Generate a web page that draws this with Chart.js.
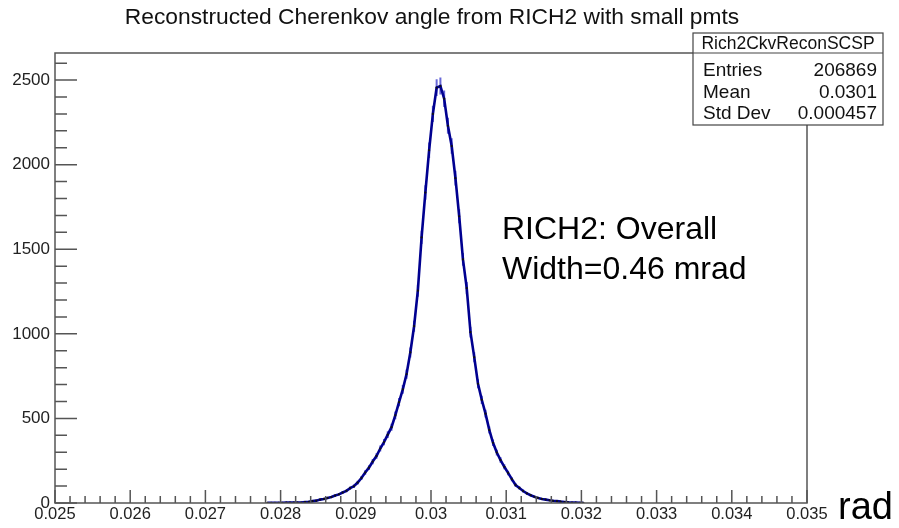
<!DOCTYPE html>
<html>
<head>
<meta charset="utf-8">
<script src="https://cdn.jsdelivr.net/npm/chart.js@4.4.1/dist/chart.umd.min.js"></script>
<style>
  html, body { margin: 0; padding: 0; background: #fff; }
</style>
</head>
<body>
<canvas id="ckvChart" width="899" height="528"></canvas>
<script>
// histogram binning (low edge of first filled bin, bin width in rad)
const BIN_LO = 0.0278;
const BIN_WIDTH = 0.00005;

// entries per bin, starting at BIN_LO
const binCounts = [
    1, 1, 1, 1, 1, 2, 2, 2,
    2, 3, 5, 7, 11, 14, 20, 24, 30, 35,
    44, 51, 62, 72, 88, 99, 121, 148, 180, 209,
    245, 278, 322, 360, 404, 448, 518, 596, 672, 762,
    890, 1045, 1255, 1570, 1835, 2085, 2300, 2455, 2465, 2390,
    2230, 2110, 1920, 1695, 1440, 1270, 1010, 862, 705, 610,
    528, 432, 356, 298, 254, 214, 178, 141, 106, 89,
    71, 57, 46, 37, 30, 24, 20, 16, 13, 11,
    8, 6, 4, 3, 2, 1, 1
];

const xTicks = [0.025, 0.026, 0.027, 0.028, 0.029, 0.03, 0.031, 0.032, 0.033, 0.034, 0.035];
const yTicks = [0, 500, 1000, 1500, 2000, 2500];

const histName = "Rich2CkvReconSCSP";
const statLabels = ["Entries", "Mean", "Std Dev"];
const statValues = ["206869", "0.0301", "0.000457"];

const TITLE = "Reconstructed Cherenkov angle from RICH2 with small pmts";
const NOTE_LINES = ["RICH2: Overall", "Width=0.46 mrad"];
const X_TITLE = "rad";

const FONT = "'Liberation Sans', Arial, sans-serif";

const points = binCounts.map((n, i) => ({ x: BIN_LO + (i + 0.5) * BIN_WIDTH, y: n }));

// ROOT style decorations: inward ticks, frame, stats box, labels
const rootStyle = {
    id: "rootStyle",
    beforeDatasetsDraw(chart) {
        const { ctx, scales: { x, y } } = chart;
        ctx.save();
        ctx.strokeStyle = "rgba(40, 40, 200, 0.7)";
        ctx.lineWidth = 2;
        ctx.beginPath();
        points.forEach(p => {
            const err = Math.sqrt(p.y);
            const px = x.getPixelForValue(p.x);
            ctx.moveTo(px, y.getPixelForValue(p.y + err));
            ctx.lineTo(px, y.getPixelForValue(Math.max(0, p.y - err)));
        });
        ctx.stroke();
        ctx.restore();
    },
    afterDatasetsDraw(chart) {
        const { ctx, chartArea: a, scales: { x, y } } = chart;
        ctx.save();

        // frame
        ctx.strokeStyle = "#555";
        ctx.lineWidth = 1.5;
        ctx.strokeRect(a.left, a.top, a.right - a.left, a.bottom - a.top);

        // x ticks (primary + 5 secondary divisions)
        ctx.beginPath();
        const xStep = xTicks[1] - xTicks[0];
        for (let i = 0; i < xTicks.length; i++) {
            const px = x.getPixelForValue(xTicks[i]);
            ctx.moveTo(px, a.bottom);
            ctx.lineTo(px, a.bottom - 13);
            if (i < xTicks.length - 1) {
                for (let k = 1; k < 5; k++) {
                    const mx = x.getPixelForValue(xTicks[i] + k * xStep / 5);
                    ctx.moveTo(mx, a.bottom);
                    ctx.lineTo(mx, a.bottom - 7);
                }
            }
        }
        // y ticks
        const yStep = yTicks[1] - yTicks[0];
        for (let i = 0; i < yTicks.length; i++) {
            const py = y.getPixelForValue(yTicks[i]);
            ctx.moveTo(a.left, py);
            ctx.lineTo(a.left + 22, py);
            for (let k = 1; k < 5; k++) {
                const v = yTicks[i] + k * yStep / 5;
                if (v > y.max) break;
                const my = y.getPixelForValue(v);
                ctx.moveTo(a.left, my);
                ctx.lineTo(a.left + 12, my);
            }
        }
        ctx.stroke();

        // title
        ctx.fillStyle = "#111";
        ctx.font = "22.8px " + FONT;
        ctx.textAlign = "center";
        ctx.textBaseline = "middle";
        ctx.fillText(TITLE, 432, 18);

        // stats box
        const bx = 693, by = 33, bw = 190, bh = 92;
        ctx.fillStyle = "#fff";
        ctx.fillRect(bx, by, bw, bh);
        ctx.strokeStyle = "#444";
        ctx.lineWidth = 1.2;
        ctx.strokeRect(bx, by, bw, bh);
        ctx.beginPath();
        ctx.moveTo(bx, by + 20);
        ctx.lineTo(bx + bw, by + 20);
        ctx.stroke();
        ctx.fillStyle = "#111";
        ctx.font = "17.5px " + FONT;
        ctx.textAlign = "center";
        ctx.fillText(histName, bx + bw / 2, by + 11);
        ctx.font = "19px " + FONT;
        statLabels.forEach((lab, i) => {
            const ty = 71 + i * 21.3;
            ctx.textAlign = "left";
            ctx.fillText(lab, bx + 10, ty);
            ctx.textAlign = "right";
            ctx.fillText(statValues[i], bx + bw - 6, ty);
        });

        // annotation
        ctx.fillStyle = "#000";
        ctx.font = "32px " + FONT;
        ctx.textAlign = "left";
        NOTE_LINES.forEach((line, i) => ctx.fillText(line, 502, 230 + i * 40));

        // x axis title
        ctx.font = "38px " + FONT;
        ctx.fillText(X_TITLE, 838, 509);

        ctx.restore();
    }
};

new Chart(document.getElementById("ckvChart"), {
    type: "line",
    data: {
        datasets: [{
            data: points,
            borderColor: "#000090",
            borderWidth: 2.6,
            tension: 0,
            pointRadius: 1.1,
            pointBackgroundColor: "#111",
            pointBorderWidth: 0
        }]
    },
    options: {
        responsive: false,
        animation: false,
        devicePixelRatio: 1,
        layout: { padding: { top: 53, right: 92, left: 0, bottom: 0 } },
        plugins: { legend: { display: false }, tooltip: { enabled: false } },
        scales: {
            x: {
                type: "linear",
                min: 0.025,
                max: 0.035,
                afterBuildTicks: s => { s.ticks = xTicks.map(v => ({ value: v })); },
                afterFit: s => { s.height = 25; },
                grid: { display: false, drawTicks: false },
                border: { display: false },
                ticks: {
                    padding: 2,
                    maxRotation: 0,
                    autoSkip: false,
                    color: "#222",
                    font: { family: FONT, size: 16.5 },
                    callback: v => String(Number(v.toFixed(4)))
                }
            },
            y: {
                min: 0,
                max: 2660,
                afterBuildTicks: s => { s.ticks = yTicks.map(v => ({ value: v })); },
                afterFit: s => { s.width = 55; },
                grid: { display: false, drawTicks: false },
                border: { display: false },
                ticks: {
                    padding: 5,
                    color: "#222",
                    font: { family: FONT, size: 17 },
                    callback: v => String(v)
                }
            }
        }
    },
    plugins: [rootStyle]
});
</script>
</body>
</html>
